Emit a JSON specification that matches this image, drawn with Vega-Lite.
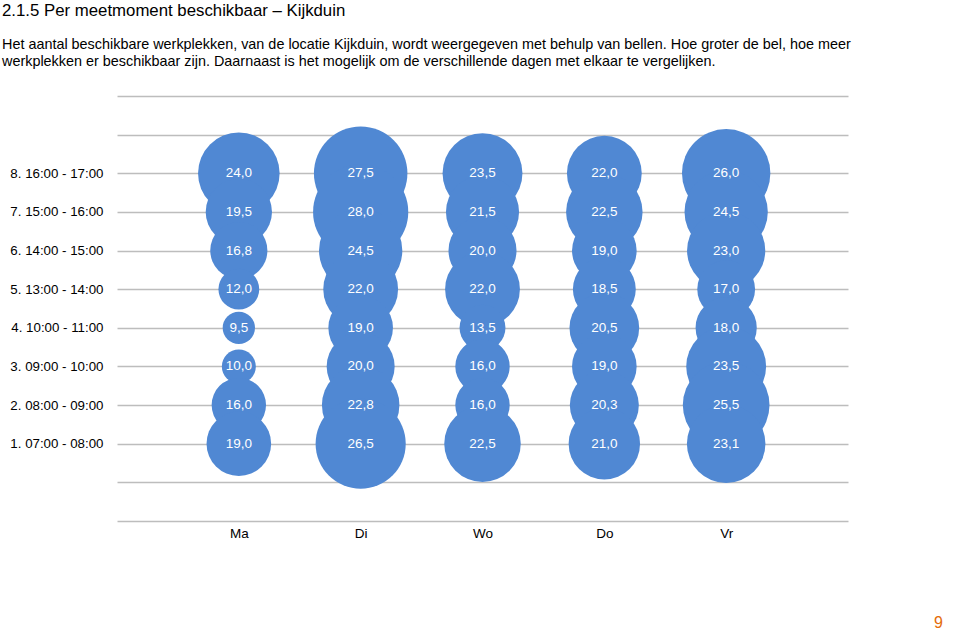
{
  "$schema": "https://vega.github.io/schema/vega-lite/v6.json",
  "autosize": "none",
  "width": 731,
  "height": 425,
  "padding": {"left": 117, "top": 96, "right": 112, "bottom": 110},
  "background": "white",
  "config": {
    "font": "Liberation Sans",
    "view": {"stroke": null},
    "locale": {"number": {"decimal": ",", "thousands": ".", "grouping": [3], "currency": ["€", ""]}}
  },
  "title": {
    "text": "2.1.5 Per meetmoment beschikbaar – Kijkduin",
    "subtitle": ["Het aantal beschikbare werkplekken, van de locatie Kijkduin, wordt weergegeven met behulp van bellen. Hoe groter de bel, hoe meer", "werkplekken er beschikbaar zijn. Daarnaast is het mogelijk om de verschillende dagen met elkaar te vergelijken."],
    "anchor": "start",
    "frame": "group",
    "dx": -115,
    "dy": -21,
    "fontSize": 16.8,
    "fontWeight": "normal",
    "color": "#000000",
    "subtitleFontSize": 14.4,
    "subtitleColor": "#000000",
    "subtitleLineHeight": 16.5,
    "subtitlePadding": 18,
    "offset": 0
  },
  "data": {
    "values": [
      {"dag": "Ma", "moment": "8. 16:00 - 17:00", "waarde": 24.0},
      {"dag": "Ma", "moment": "7. 15:00 - 16:00", "waarde": 19.5},
      {"dag": "Ma", "moment": "6. 14:00 - 15:00", "waarde": 16.8},
      {"dag": "Ma", "moment": "5. 13:00 - 14:00", "waarde": 12.0},
      {"dag": "Ma", "moment": "4. 10:00 - 11:00", "waarde": 9.5},
      {"dag": "Ma", "moment": "3. 09:00 - 10:00", "waarde": 10.0},
      {"dag": "Ma", "moment": "2. 08:00 - 09:00", "waarde": 16.0},
      {"dag": "Ma", "moment": "1. 07:00 - 08:00", "waarde": 19.0},
      {"dag": "Di", "moment": "8. 16:00 - 17:00", "waarde": 27.5},
      {"dag": "Di", "moment": "7. 15:00 - 16:00", "waarde": 28.0},
      {"dag": "Di", "moment": "6. 14:00 - 15:00", "waarde": 24.5},
      {"dag": "Di", "moment": "5. 13:00 - 14:00", "waarde": 22.0},
      {"dag": "Di", "moment": "4. 10:00 - 11:00", "waarde": 19.0},
      {"dag": "Di", "moment": "3. 09:00 - 10:00", "waarde": 20.0},
      {"dag": "Di", "moment": "2. 08:00 - 09:00", "waarde": 22.8},
      {"dag": "Di", "moment": "1. 07:00 - 08:00", "waarde": 26.5},
      {"dag": "Wo", "moment": "8. 16:00 - 17:00", "waarde": 23.5},
      {"dag": "Wo", "moment": "7. 15:00 - 16:00", "waarde": 21.5},
      {"dag": "Wo", "moment": "6. 14:00 - 15:00", "waarde": 20.0},
      {"dag": "Wo", "moment": "5. 13:00 - 14:00", "waarde": 22.0},
      {"dag": "Wo", "moment": "4. 10:00 - 11:00", "waarde": 13.5},
      {"dag": "Wo", "moment": "3. 09:00 - 10:00", "waarde": 16.0},
      {"dag": "Wo", "moment": "2. 08:00 - 09:00", "waarde": 16.0},
      {"dag": "Wo", "moment": "1. 07:00 - 08:00", "waarde": 22.5},
      {"dag": "Do", "moment": "8. 16:00 - 17:00", "waarde": 22.0},
      {"dag": "Do", "moment": "7. 15:00 - 16:00", "waarde": 22.5},
      {"dag": "Do", "moment": "6. 14:00 - 15:00", "waarde": 19.0},
      {"dag": "Do", "moment": "5. 13:00 - 14:00", "waarde": 18.5},
      {"dag": "Do", "moment": "4. 10:00 - 11:00", "waarde": 20.5},
      {"dag": "Do", "moment": "3. 09:00 - 10:00", "waarde": 19.0},
      {"dag": "Do", "moment": "2. 08:00 - 09:00", "waarde": 20.3},
      {"dag": "Do", "moment": "1. 07:00 - 08:00", "waarde": 21.0},
      {"dag": "Vr", "moment": "8. 16:00 - 17:00", "waarde": 26.0},
      {"dag": "Vr", "moment": "7. 15:00 - 16:00", "waarde": 24.5},
      {"dag": "Vr", "moment": "6. 14:00 - 15:00", "waarde": 23.0},
      {"dag": "Vr", "moment": "5. 13:00 - 14:00", "waarde": 17.0},
      {"dag": "Vr", "moment": "4. 10:00 - 11:00", "waarde": 18.0},
      {"dag": "Vr", "moment": "3. 09:00 - 10:00", "waarde": 23.5},
      {"dag": "Vr", "moment": "2. 08:00 - 09:00", "waarde": 25.5},
      {"dag": "Vr", "moment": "1. 07:00 - 08:00", "waarde": 23.1}
    ]
  },
  "encoding": {
    "x": {
      "field": "dag",
      "type": "nominal",
      "sort": ["Ma", "Di", "Wo", "Do", "Vr"],
      "scale": {"type": "point", "padding": 1},
      "axis": {
        "orient": "bottom",
        "domain": false,
        "ticks": false,
        "grid": false,
        "labelAngle": 0,
        "labelFontSize": 13.5,
        "labelColor": "#000000",
        "labelPadding": 5,
        "title": "9",
        "titleColor": "#e46c0a",
        "titleFontSize": 16,
        "titleFontWeight": "normal",
        "titleAnchor": "start",
        "titleAlign": "center",
        "titleBaseline": "middle",
        "titleX": 821,
        "titleY": 101
      }
    },
    "y": {
      "field": "moment",
      "type": "nominal",
      "scale": {
        "type": "point",
        "padding": 0,
        "domain": [" ", "  ", "8. 16:00 - 17:00", "7. 15:00 - 16:00", "6. 14:00 - 15:00", "5. 13:00 - 14:00", "4. 10:00 - 11:00", "3. 09:00 - 10:00", "2. 08:00 - 09:00", "1. 07:00 - 08:00", "   ", "    "]
      },
      "axis": {
        "domain": false,
        "ticks": false,
        "grid": true,
        "gridColor": "#bdbdbd",
        "gridWidth": 1.3,
        "labelFontSize": 13.3,
        "labelColor": "#000000",
        "labelPadding": 14,
        "title": null
      }
    }
  },
  "layer": [
    {
      "mark": {"type": "circle", "opacity": 1, "color": "#5088d3", "stroke": null},
      "encoding": {
        "size": {
          "field": "waarde",
          "type": "quantitative",
          "scale": {"type": "pow", "exponent": 2, "domain": [0, 28], "range": [0, 9063]},
          "legend": null
        }
      }
    },
    {
      "mark": {"type": "text", "color": "#ffffff", "fontSize": 13.5, "align": "center", "baseline": "middle"},
      "encoding": {
        "text": {"field": "waarde", "type": "quantitative", "format": ".1f"}
      }
    }
  ]
}
